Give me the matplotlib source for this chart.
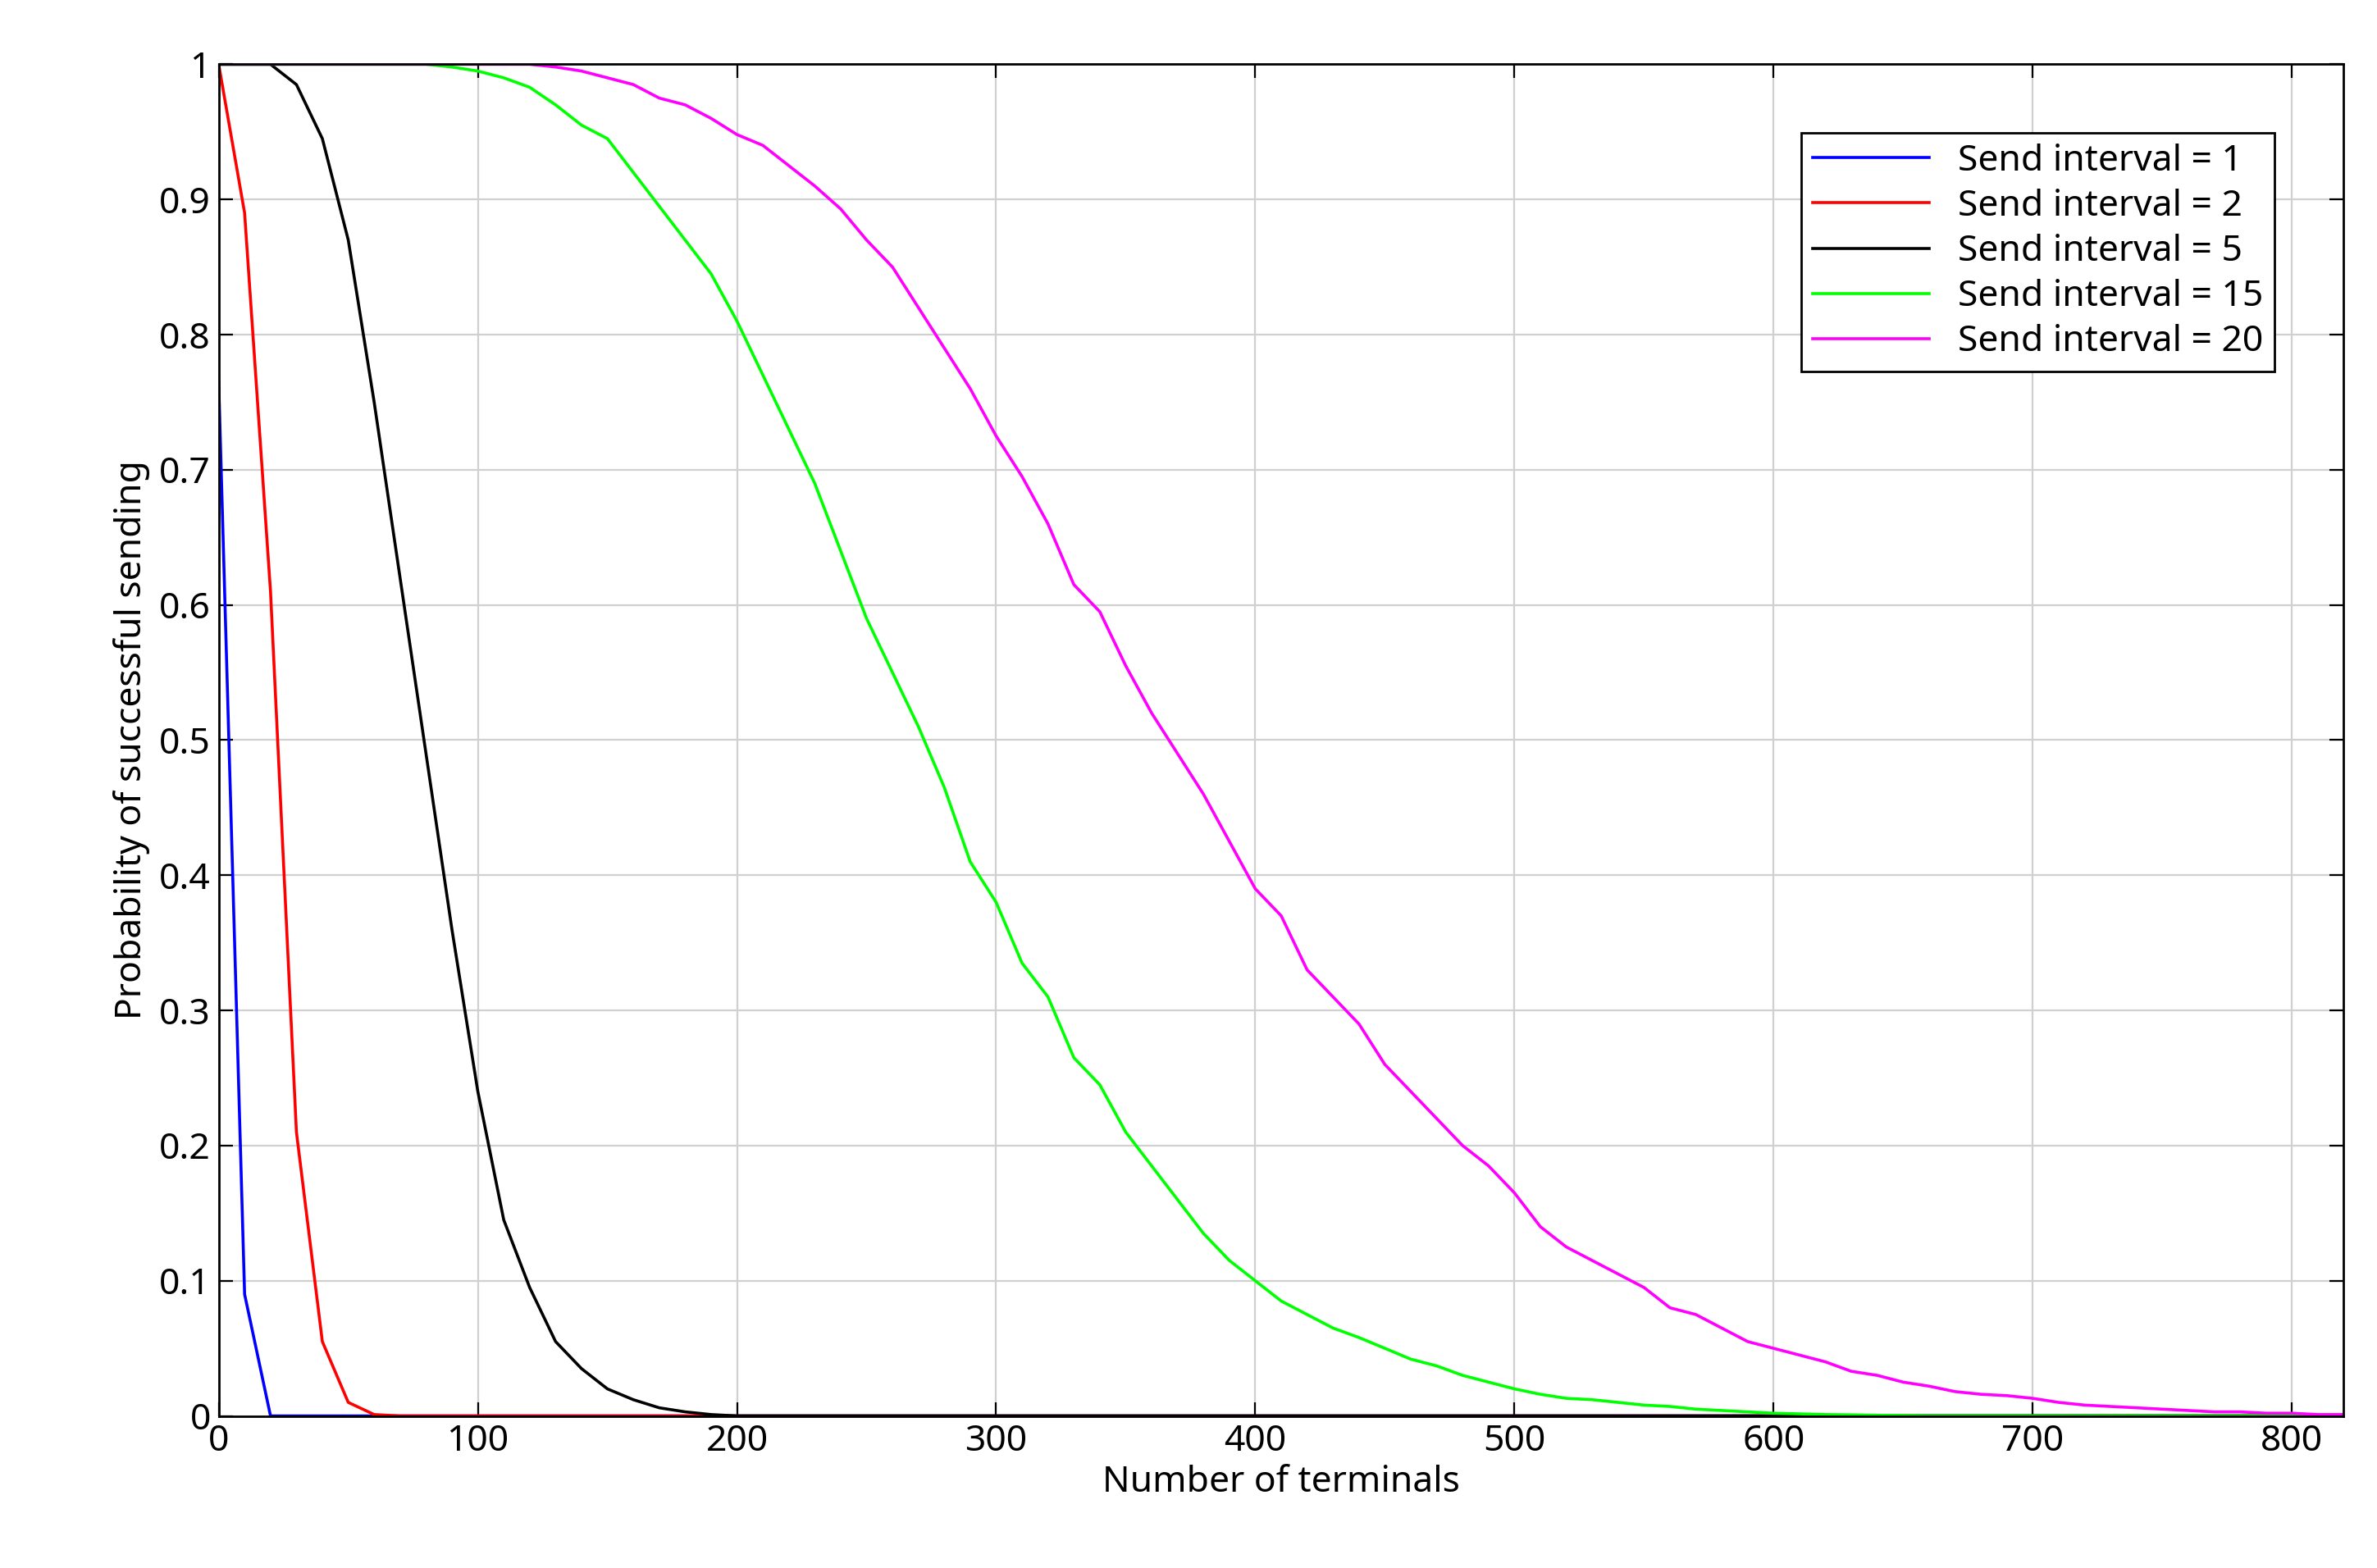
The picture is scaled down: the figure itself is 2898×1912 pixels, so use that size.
import matplotlib
matplotlib.use("Agg")
import matplotlib.pyplot as plt
import numpy as np

plt.rcParams['font.family'] = ['Noto Sans', 'DejaVu Sans']

step = 10

s1 = [0.765, 0.09, 0.0] + [0.0] * 80
s2 = [1.0, 0.89, 0.61, 0.21, 0.055, 0.01, 0.001] + [0.0] * 76
s5 = [1.0, 1.0, 1.0, 0.985, 0.945, 0.87, 0.75, 0.62, 0.49, 0.36, 0.24, 0.145, 0.095,
      0.055, 0.035, 0.02, 0.012, 0.006, 0.003, 0.001] + [0.0] * 63
s15 = [1.0] * 9 + [0.998, 0.995, 0.99, 0.983, 0.97, 0.955, 0.945, 0.92, 0.895, 0.87,
       0.845, 0.81, 0.77, 0.73, 0.69, 0.64, 0.59, 0.55, 0.51, 0.465, 0.41, 0.38, 0.335,
       0.31, 0.265, 0.245, 0.21, 0.185, 0.16, 0.135, 0.115, 0.1, 0.085, 0.075, 0.065,
       0.058, 0.05, 0.042, 0.037, 0.03, 0.025, 0.02, 0.016, 0.013, 0.012, 0.01, 0.008,
       0.007, 0.005, 0.004, 0.003, 0.002, 0.0015, 0.001, 0.0008, 0.0005, 0.0003] + [0.0] * 18
s20 = [1.0] * 13 + [0.998, 0.995, 0.99, 0.985, 0.975, 0.97, 0.96, 0.948, 0.94, 0.925,
       0.91, 0.893, 0.87, 0.85, 0.82, 0.79, 0.76, 0.725, 0.695, 0.66, 0.615, 0.595, 0.555,
       0.52, 0.49, 0.46, 0.425, 0.39, 0.37, 0.33, 0.31, 0.29, 0.26, 0.24, 0.22, 0.2,
       0.185, 0.165, 0.14, 0.125, 0.115, 0.105, 0.095, 0.08, 0.075, 0.065, 0.055, 0.05,
       0.045, 0.04, 0.033, 0.03, 0.025, 0.022, 0.018, 0.016, 0.015, 0.013, 0.01, 0.008,
       0.007, 0.006, 0.005, 0.004, 0.003, 0.003, 0.002, 0.002, 0.001, 0.001]

series = [s1, s2, s5, s15, s20]
labels = ['Send interval = 1', 'Send interval = 2', 'Send interval = 5',
          'Send interval = 15', 'Send interval = 20']
colors = ['#0000ff', '#ff0000', '#000000', '#00ff00', '#ff00ff']

fig = plt.figure(figsize=(14.49, 9.56), dpi=200)
ax = fig.add_axes([0.092, 0.097, 0.894, 0.862])
for s, l, c in zip(series, labels, colors):
    xs = np.arange(len(s)) * step
    ax.plot(xs, s, color=c, lw=1.3, label=l)

ax.set_xlim(0, 820)
ax.set_ylim(0, 1)
ax.set_xticks(range(0, 801, 100))
ax.set_yticks(np.arange(0, 1.01, 0.1))
ax.set_yticklabels(['0', '0.1', '0.2', '0.3', '0.4', '0.5', '0.6', '0.7', '0.8', '0.9', '1'])
ax.grid(True, color='#d0d0d0', lw=0.8)
ax.tick_params(direction='in', top=True, right=True, labelsize=16, length=6)
for sp in ax.spines.values():
    sp.set_linewidth(1.0)
ax.set_xlabel('Number of terminals', fontsize=16, labelpad=2)
ax.set_ylabel('Probability of successful sending', fontsize=16)
leg = ax.legend(loc='upper right', bbox_to_anchor=(0.976, 0.963), fontsize=16,
                fancybox=False, framealpha=1, edgecolor='black', handlelength=3.2,
                borderpad=0.3, labelspacing=0.25)
leg.get_frame().set_linewidth(1.0)

fig.savefig('out.png', dpi=200)
